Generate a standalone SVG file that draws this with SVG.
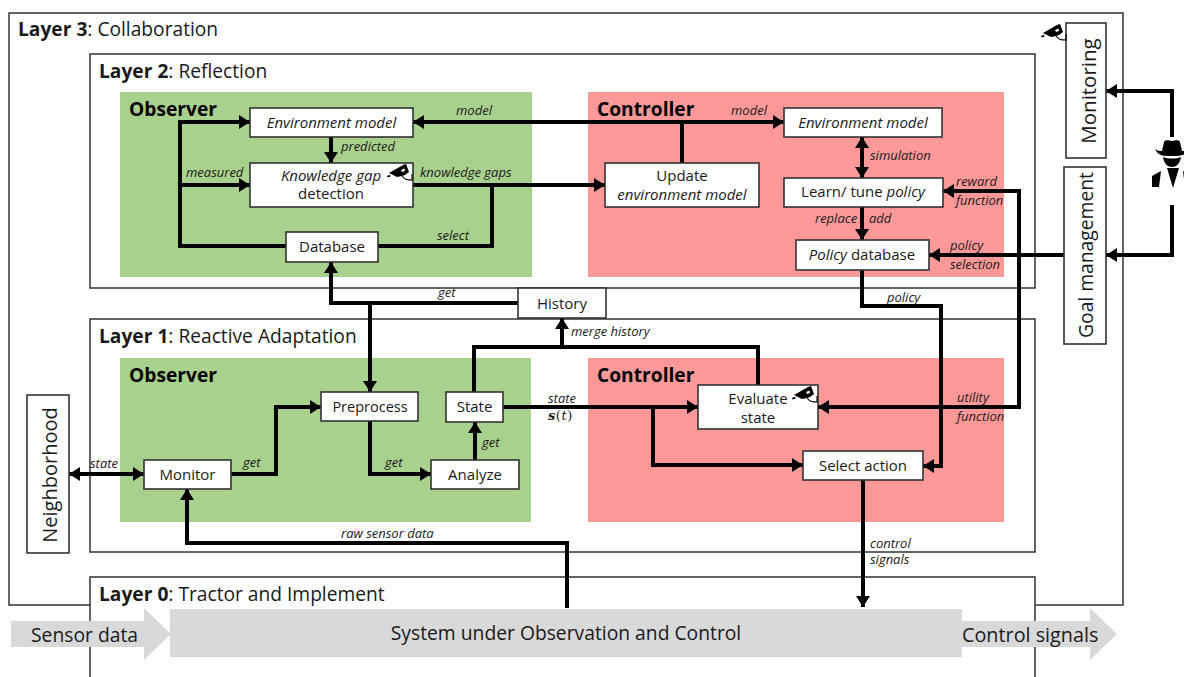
<svg xmlns="http://www.w3.org/2000/svg" width="1184" height="677" viewBox="0 0 1184 677">
<style>
text{font-family:"Open Sans","Noto Sans","Liberation Sans",sans-serif;fill:#1a1a1a}
.layer{fill:#fff;stroke:#333;stroke-width:1.5}
.lt{font-size:19.2px}
.h{font-size:19.2px;font-weight:700;fill:#000}
.box{fill:#fff;stroke:#333;stroke-width:1.6}
.t{font-size:15px;text-anchor:middle}
.i{font-size:13px;font-style:italic}
.big{font-size:19.3px}
.c{fill:none;stroke:#000;stroke-width:4;stroke-linejoin:miter}
.g{fill:#a9d18e}.r{fill:#ff9999}.a{fill:#d9d9d9}
</style>
<defs>
<marker id="ah" markerUnits="userSpaceOnUse" markerWidth="12" markerHeight="14" refX="11" refY="7" orient="auto-start-reverse"><path d="M0 0L11 7L0 14Z" fill="#000"/></marker>
<g id="cam"><path d="M-17 -3L-3 -11L0 -12L3 -4L-1 -1L-4 0L-9 1L-13 -1Z" fill="#000"/><path d="M-5 -6L-1.500 -7.500L-1 -5L-4 -4Z" fill="#fff"/><path d="M-19 0l3 -1.200l.6 1.800l-3 1Z" fill="#000"/><path d="M-4 0C-1 4 2 4 6 4V-2" fill="none" stroke="#000" stroke-width="1.100"/></g>
</defs>

<g id="layer3"><rect class="layer" x="9" y="13" width="1114" height="592"/><text x="18" y="36" class="lt"><tspan font-weight="700">Layer 3</tspan>: Collaboration</text></g>
<g id="layer2"><rect class="layer" x="90" y="54" width="945" height="234"/><text x="99" y="78" class="lt"><tspan font-weight="700">Layer 2</tspan>: Reflection</text></g>
<g id="layer1"><rect class="layer" x="90" y="319" width="945" height="233"/><text x="99" y="343" class="lt"><tspan font-weight="700">Layer 1</tspan>: Reactive Adaptation</text></g>
<g id="layer0"><path class="layer" d="M90 677V577H1035V677"/><text x="99" y="601" class="lt"><tspan font-weight="700">Layer 0</tspan>: Tractor and Implement</text></g>

<g id="observer2"><rect class="g" x="120" y="92" width="412" height="185"/><text x="129" y="116" class="h">Observer</text></g>
<g id="controller2"><rect class="r" x="588" y="92" width="416" height="185"/><text x="597" y="116" class="h">Controller</text></g>
<g id="observer1"><rect class="g" x="120" y="358" width="411" height="164"/><text x="129" y="382" class="h">Observer</text></g>
<g id="controller1"><rect class="r" x="588" y="358" width="416" height="164"/><text x="597" y="382" class="h">Controller</text></g>

<g id="system"><path class="a" d="M11 621H144V608L171 634L144 660V647H11Z"/><path class="a" d="M962 621H1090V608L1117 634L1090 660V647H962Z"/><rect class="a" x="170" y="609" width="792" height="48"/>
<text x="31" y="642" class="big">Sensor data</text><text x="566" y="640" class="big" text-anchor="middle">System under Observation and Control</text><text x="962" y="642" class="big" style="font-size:19.800px">Control signals</text></g>

<g id="connectors">
<path class="c" d="M413 122H784" marker-start="url(#ah)" marker-end="url(#ah)"/>
<path class="c" d="M682 122V163"/>
<path class="c" d="M331 137V163" marker-end="url(#ah)"/>
<path class="c" d="M250 122H180V246H286"/>
<path class="c" d="M180 122H250" marker-end="url(#ah)"/>
<path class="c" d="M180 185H250" marker-end="url(#ah)"/>
<path class="c" d="M413 185H605" marker-end="url(#ah)"/>
<path class="c" d="M492 185V246H378"/>
<path class="c" d="M862 137V178" marker-start="url(#ah)" marker-end="url(#ah)"/>
<path class="c" d="M862 207V240" marker-end="url(#ah)"/>
<path class="c" d="M943 191H1019V407H818" marker-start="url(#ah)" marker-end="url(#ah)"/>
<path class="c" d="M862 270V306H941V466H923" marker-end="url(#ah)"/>
<path class="c" d="M1064 255H929" marker-end="url(#ah)"/>
<path class="c" d="M1172 205V255H1106" marker-end="url(#ah)"/>
<path class="c" d="M1172 137V91H1106" marker-end="url(#ah)"/>
<path class="c" d="M518 303H331V262" marker-end="url(#ah)"/>
<path class="c" d="M370 303V392" marker-end="url(#ah)"/>
<path class="c" d="M474 392V347H758V385"/>
<path class="c" d="M562 347V318" marker-end="url(#ah)"/>
<path class="c" d="M503 407H698" marker-end="url(#ah)"/>
<path class="c" d="M653 407V465H803" marker-end="url(#ah)"/>
<path class="c" d="M231 474H276V407H321" marker-end="url(#ah)"/>
<path class="c" d="M370 421V474H431" marker-end="url(#ah)"/>
<path class="c" d="M475 460V422" marker-end="url(#ah)"/>
<path class="c" d="M69 474H144" marker-start="url(#ah)" marker-end="url(#ah)"/>
<path class="c" d="M567 608V543H187V489" marker-end="url(#ah)"/>
<path class="c" d="M863 480V607" marker-end="url(#ah)"/>
</g>

<g id="connector-labels">
<text x="456" y="115" class="i">model</text><text x="731" y="115" class="i">model</text>
<text x="341" y="151" class="i">predicted</text><text x="186" y="177" class="i">measured</text>
<text x="420" y="177" class="i">knowledge gaps</text><text x="437" y="240" class="i">select</text>
<text x="870" y="160" class="i">simulation</text><text x="815" y="223" class="i">replace</text><text x="869" y="223" class="i">add</text>
<text x="956" y="186" class="i">reward</text><text x="956" y="205" class="i">function</text>
<text x="950" y="250" class="i">policy</text><text x="950" y="269" class="i">selection</text>
<text x="887" y="302" class="i">policy</text><text x="438" y="297" class="i">get</text>
<text x="571" y="336" class="i">merge history</text>
<text x="548" y="403" class="i">state</text>
<text x="548" y="420" style="font-family:'DejaVu Serif','Liberation Serif',serif;font-size:13px;letter-spacing:.5px"><tspan font-weight="700" font-style="italic">s</tspan>(<tspan font-style="italic">t</tspan>)</text>
<text x="957" y="402" class="i">utility</text><text x="957" y="421" class="i">function</text>
<text x="243" y="467" class="i">get</text><text x="385" y="467" class="i">get</text><text x="482" y="447" class="i">get</text>
<text x="90" y="468" class="i">state</text><text x="341" y="538" class="i">raw sensor data</text>
<text x="870" y="548" class="i">control</text><text x="870" y="564" class="i">signals</text>
</g>

<g id="env-model-obs"><rect class="box" x="250" y="108" width="163" height="29"/><text x="331.500" y="128" class="t" font-style="italic">Environment model</text></g>
<g id="knowledge-gap"><rect class="box" x="250" y="163" width="163" height="44"/><text x="331" y="181" class="t" font-style="italic">Knowledge gap</text><text x="331" y="199" class="t">detection</text><use href="#cam" x="406" y="176"/></g>
<g id="database"><rect class="box" x="286" y="232" width="92" height="30"/><text x="332" y="252" class="t">Database</text></g>
<g id="update"><rect class="box" x="605" y="163" width="154" height="44"/><text x="682" y="181" class="t">Update</text><text x="682" y="200" class="t" font-style="italic">environment model</text></g>
<g id="env-model-ctl"><rect class="box" x="784" y="108" width="158" height="29"/><text x="863" y="128" class="t" font-style="italic">Environment model</text></g>
<g id="learn"><rect class="box" x="784" y="178" width="159" height="29"/><text x="863" y="197" class="t">Learn/ tune <tspan font-style="italic">policy</tspan></text></g>
<g id="policy-db"><rect class="box" x="796" y="240" width="133" height="30"/><text x="862" y="260" class="t"><tspan font-style="italic">Policy</tspan> database</text></g>
<g id="history"><rect class="box" x="518" y="288" width="88" height="30"/><text x="562" y="309" class="t">History</text></g>
<g id="preprocess"><rect class="box" x="321" y="392" width="97" height="29"/><text x="370" y="412" class="t" style="font-size:14.500px">Preprocess</text></g>
<g id="state"><rect class="box" x="446" y="392" width="57" height="30"/><text x="474.500" y="412" class="t">State</text></g>
<g id="monitor"><rect class="box" x="144" y="460" width="87" height="29"/><text x="187.500" y="480" class="t">Monitor</text></g>
<g id="analyze"><rect class="box" x="431" y="460" width="88" height="29"/><text x="475" y="480" class="t">Analyze</text></g>
<g id="evaluate"><rect class="box" x="698" y="385" width="120" height="44"/><text x="758" y="404" class="t">Evaluate</text><text x="758" y="423" class="t">state</text><use href="#cam" x="811" y="398"/></g>
<g id="select-action"><rect class="box" x="803" y="451" width="120" height="29"/><text x="863" y="471" class="t">Select action</text></g>
<g id="neighborhood"><rect class="box" x="27" y="395" width="42" height="158"/><text transform="translate(57 475) rotate(-90)" class="big" style="font-size:20px" text-anchor="middle">Neighborhood</text></g>
<g id="monitoring"><rect class="box" x="1066" y="23" width="40" height="135"/><text transform="translate(1096 91) rotate(-90)" class="big" style="font-size:20.500px" text-anchor="middle">Monitoring</text><use href="#cam" x="1060" y="36"/></g>
<g id="goal"><rect class="box" x="1064" y="167" width="42" height="177"/><text transform="translate(1093 255) rotate(-90)" class="big" text-anchor="middle">Goal management</text></g>
<g id="person" fill="#000">
<path d="M1155 149C1158 151 1160 151 1162 151L1164 142C1166 139 1169 141 1172 141C1175 141 1178 139 1180 142L1182 151C1184 151 1186 151 1189 149C1186 156 1180 156 1172 156C1164 156 1158 156 1155 149Z"/>
<path d="M1163 157C1168 159 1176 159 1181 157C1180 164 1176 167 1172 167C1168 167 1164 164 1163 157Z"/>
<path d="M1152 176L1161 171L1159 187H1152Z"/>
<path d="M1167 168H1179L1173 188Z"/>
<path d="M1183 171L1192 176V187H1185Z"/>
</g>
</svg>
